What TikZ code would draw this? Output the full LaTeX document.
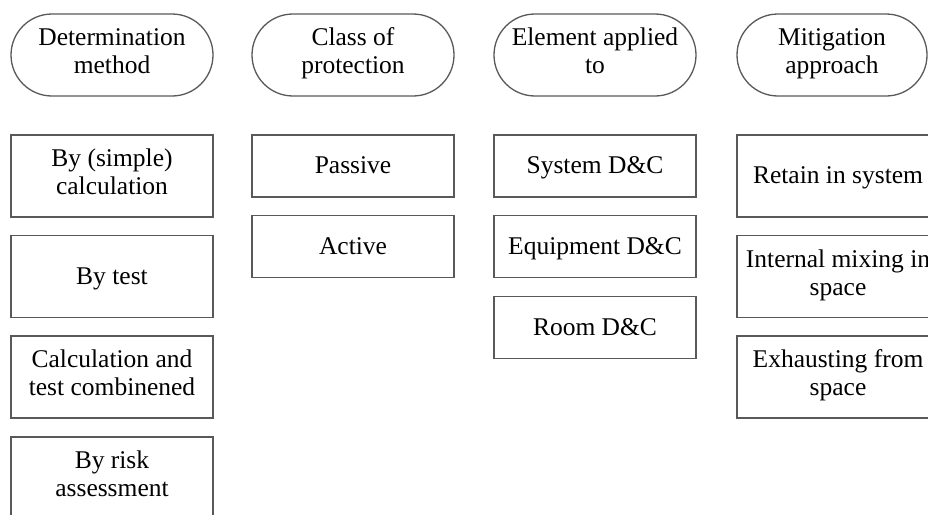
\documentclass[tikz,border=0pt]{standalone}
\usepackage{fontspec}
\setmainfont{Liberation Serif}
\usetikzlibrary{shapes}

\tikzset{
  plainline/.style={draw=black!65,line width=1.3pt,align=center,inner sep=0pt,
    execute at begin node={\rule{0pt}{\dimexpr0.7\baselineskip+4pt\relax}},execute at end node=\strut},
  headbox/.style={shape=rounded rectangle,plainline,minimum width=202pt,minimum height=82pt},
  itembox/.style={shape=rectangle,plainline,minimum width=202pt},
  tallbox/.style={itembox,minimum height=82pt},
  flatbox/.style={itembox,minimum height=62pt}
}

\begin{document}
\begin{tikzpicture}[x=1pt,y=-1pt,font=\fontsize{25.5}{28}\selectfont]
\useasboundingbox (0,0) rectangle (928,514);

\node[headbox] (method) at (112,55) {Determination\\method};
\node[headbox] (class) at (353,55) {Class of\\protection};
\node[headbox] (element) at (595,55) {Element applied\\to};
\node[headbox,minimum width=190pt] (mitigation) at (832,55) {Mitigation\\approach};

\node[tallbox] (calc) at (112,176) {By (simple)\\calculation};
\node[tallbox] (test) at (112,276.5) {By test};
\node[tallbox] (combined) at (112,377) {Calculation and\\test combinened};
\node[tallbox] (risk) at (112,478) {By risk\\assessment};

\node[flatbox] (passive) at (353,166) {Passive};
\node[flatbox] (active) at (353,246.5) {Active};

\node[flatbox] (system) at (595,166) {System D\&C};
\node[flatbox] (equipment) at (595,246.5) {Equipment D\&C};
\node[flatbox] (room) at (595,327.5) {Room D\&C};

\node[tallbox] (retain) at (838,176) {Retain in system};
\node[tallbox] (mixing) at (838,276.5) {Internal mixing in\\space};
\node[tallbox] (exhaust) at (838,377) {Exhausting from\\space};
\end{tikzpicture}
\end{document}
